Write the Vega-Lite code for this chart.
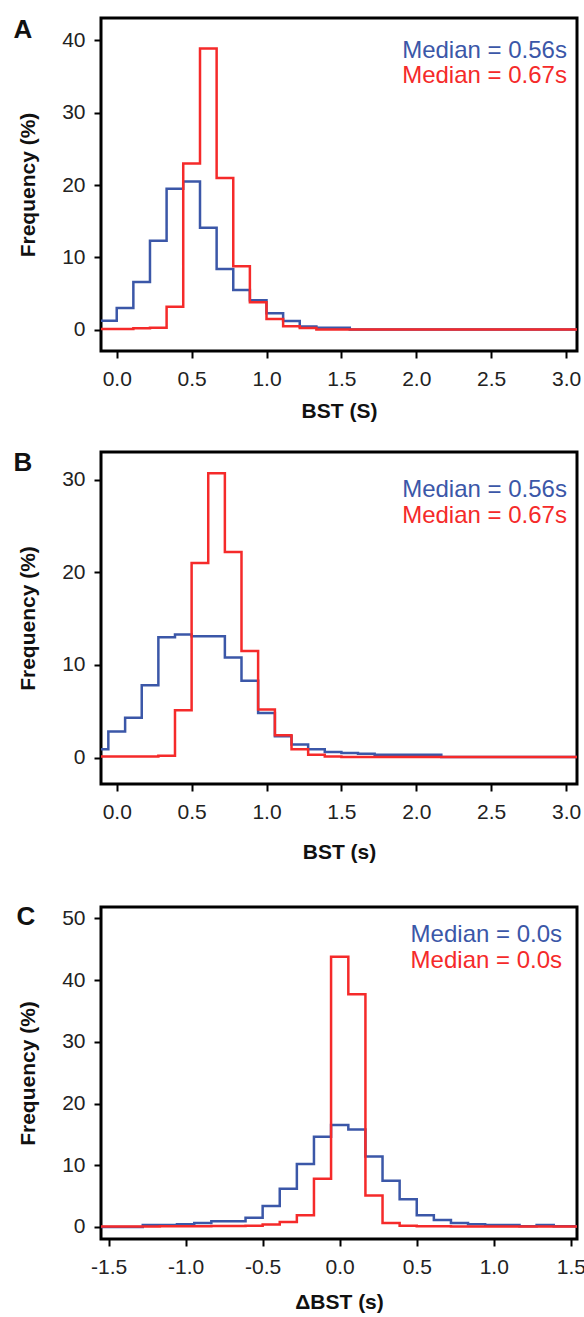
{
  "$schema": "https://vega.github.io/schema/vega-lite/v6.json",
  "padding": {"left": 12, "top": 15, "right": 4, "bottom": 2},
  "spacing": 25,
  "background": "white",
  "config": {
    "font": "Liberation Sans",
    "view": {"stroke": "black", "strokeWidth": 3},
    "axis": {
      "grid": false, "domain": false,
      "tickColor": "black", "tickWidth": 2, "tickSize": 7,
      "labelFont": "Liberation Sans", "labelFontSize": 21, "labelColor": "#222",
      "titleFont": "Liberation Sans", "titleFontSize": 21, "titleFontWeight": "bold", "titleColor": "#111"
    },
    "axisY": {"labelPadding": 9, "titlePadding": 23},
    "axisX": {"labelPadding": 10, "titlePadding": 10}
  },
  "datasets": {
    "panelA": [
      {"x": -0.111, "y": 1.24, "group": "blue"}, {"x": 0.0, "y": 3.0, "group": "blue"},
      {"x": 0.111, "y": 6.6, "group": "blue"}, {"x": 0.222, "y": 12.3, "group": "blue"},
      {"x": 0.333, "y": 19.5, "group": "blue"}, {"x": 0.444, "y": 20.5, "group": "blue"},
      {"x": 0.556, "y": 14.1, "group": "blue"}, {"x": 0.667, "y": 8.4, "group": "blue"},
      {"x": 0.778, "y": 5.5, "group": "blue"}, {"x": 0.889, "y": 4.1, "group": "blue"},
      {"x": 1.0, "y": 2.3, "group": "blue"}, {"x": 1.111, "y": 1.2, "group": "blue"},
      {"x": 1.222, "y": 0.45, "group": "blue"}, {"x": 1.333, "y": 0.3, "group": "blue"},
      {"x": 1.444, "y": 0.3, "group": "blue"}, {"x": 1.556, "y": 0.05, "group": "blue"},
      {"x": 3.2, "y": 0.05, "group": "blue"},
      {"x": -0.111, "y": 0.1, "group": "red"}, {"x": 0.0, "y": 0.1, "group": "red"},
      {"x": 0.111, "y": 0.2, "group": "red"}, {"x": 0.222, "y": 0.3, "group": "red"},
      {"x": 0.333, "y": 3.2, "group": "red"}, {"x": 0.444, "y": 23.0, "group": "red"},
      {"x": 0.556, "y": 38.9, "group": "red"}, {"x": 0.667, "y": 21.0, "group": "red"},
      {"x": 0.778, "y": 8.8, "group": "red"}, {"x": 0.889, "y": 3.8, "group": "red"},
      {"x": 1.0, "y": 1.5, "group": "red"}, {"x": 1.111, "y": 0.5, "group": "red"},
      {"x": 1.222, "y": 0.25, "group": "red"}, {"x": 1.333, "y": 0.05, "group": "red"},
      {"x": 3.2, "y": 0.05, "group": "red"}
    ],
    "panelB": [
      {"x": -0.167, "y": 0.9, "group": "blue"}, {"x": -0.056, "y": 2.8, "group": "blue"},
      {"x": 0.056, "y": 4.3, "group": "blue"}, {"x": 0.167, "y": 7.8, "group": "blue"},
      {"x": 0.278, "y": 13.0, "group": "blue"}, {"x": 0.389, "y": 13.3, "group": "blue"},
      {"x": 0.5, "y": 13.1, "group": "blue"}, {"x": 0.611, "y": 13.1, "group": "blue"},
      {"x": 0.722, "y": 10.8, "group": "blue"}, {"x": 0.833, "y": 8.3, "group": "blue"},
      {"x": 0.944, "y": 4.8, "group": "blue"}, {"x": 1.056, "y": 2.3, "group": "blue"},
      {"x": 1.167, "y": 1.4, "group": "blue"}, {"x": 1.278, "y": 0.9, "group": "blue"},
      {"x": 1.389, "y": 0.6, "group": "blue"}, {"x": 1.5, "y": 0.5, "group": "blue"},
      {"x": 1.611, "y": 0.4, "group": "blue"}, {"x": 1.722, "y": 0.3, "group": "blue"},
      {"x": 2.167, "y": 0.05, "group": "blue"}, {"x": 3.2, "y": 0.05, "group": "blue"},
      {"x": -0.167, "y": 0.1, "group": "red"}, {"x": -0.056, "y": 0.1, "group": "red"},
      {"x": 0.056, "y": 0.1, "group": "red"}, {"x": 0.167, "y": 0.1, "group": "red"},
      {"x": 0.278, "y": 0.2, "group": "red"}, {"x": 0.389, "y": 5.1, "group": "red"},
      {"x": 0.5, "y": 21.0, "group": "red"}, {"x": 0.611, "y": 30.7, "group": "red"},
      {"x": 0.722, "y": 22.2, "group": "red"}, {"x": 0.833, "y": 11.5, "group": "red"},
      {"x": 0.944, "y": 5.2, "group": "red"}, {"x": 1.056, "y": 2.4, "group": "red"},
      {"x": 1.167, "y": 0.9, "group": "red"}, {"x": 1.278, "y": 0.3, "group": "red"},
      {"x": 1.389, "y": 0.1, "group": "red"}, {"x": 1.5, "y": 0.05, "group": "red"},
      {"x": 3.2, "y": 0.05, "group": "red"}
    ],
    "panelC": [
      {"x": -1.611, "y": 0.0, "group": "blue"}, {"x": -1.278, "y": 0.3, "group": "blue"},
      {"x": -1.167, "y": 0.3, "group": "blue"}, {"x": -1.056, "y": 0.45, "group": "blue"},
      {"x": -0.944, "y": 0.65, "group": "blue"}, {"x": -0.833, "y": 0.9, "group": "blue"},
      {"x": -0.722, "y": 0.9, "group": "blue"}, {"x": -0.611, "y": 1.5, "group": "blue"},
      {"x": -0.5, "y": 3.4, "group": "blue"}, {"x": -0.389, "y": 6.2, "group": "blue"},
      {"x": -0.278, "y": 10.2, "group": "blue"}, {"x": -0.167, "y": 14.6, "group": "blue"},
      {"x": -0.056, "y": 16.5, "group": "blue"}, {"x": 0.056, "y": 15.8, "group": "blue"},
      {"x": 0.167, "y": 11.4, "group": "blue"}, {"x": 0.278, "y": 7.5, "group": "blue"},
      {"x": 0.389, "y": 4.5, "group": "blue"}, {"x": 0.5, "y": 1.9, "group": "blue"},
      {"x": 0.611, "y": 1.1, "group": "blue"}, {"x": 0.722, "y": 0.65, "group": "blue"},
      {"x": 0.833, "y": 0.45, "group": "blue"}, {"x": 0.944, "y": 0.3, "group": "blue"},
      {"x": 1.056, "y": 0.3, "group": "blue"}, {"x": 1.167, "y": 0.1, "group": "blue"},
      {"x": 1.278, "y": 0.3, "group": "blue"}, {"x": 1.389, "y": 0.1, "group": "blue"},
      {"x": 1.7, "y": 0.1, "group": "blue"},
      {"x": -1.611, "y": 0.05, "group": "red"}, {"x": -1.167, "y": 0.1, "group": "red"},
      {"x": -0.833, "y": 0.15, "group": "red"}, {"x": -0.611, "y": 0.2, "group": "red"},
      {"x": -0.5, "y": 0.4, "group": "red"}, {"x": -0.389, "y": 0.8, "group": "red"},
      {"x": -0.278, "y": 1.9, "group": "red"}, {"x": -0.167, "y": 7.8, "group": "red"},
      {"x": -0.056, "y": 43.8, "group": "red"}, {"x": 0.056, "y": 37.7, "group": "red"},
      {"x": 0.167, "y": 5.1, "group": "red"}, {"x": 0.278, "y": 0.65, "group": "red"},
      {"x": 0.389, "y": 0.2, "group": "red"}, {"x": 0.5, "y": 0.1, "group": "red"},
      {"x": 0.722, "y": 0.05, "group": "red"}, {"x": 1.7, "y": 0.05, "group": "red"}
    ]
  },
  "vconcat": [
    {
      "width": 476, "height": 333,
      "layer": [
        {
          "data": {"name": "panelA"},
          "mark": {"type": "line", "interpolate": "step-after", "clip": true, "strokeWidth": 2.5},
          "encoding": {
            "x": {"field": "x", "type": "quantitative", "scale": {"domain": [-0.105, 3.073], "nice": false, "zero": false},
                  "axis": {"values": [0, 0.5, 1, 1.5, 2, 2.5, 3], "format": ".1f", "title": "BST (S)", "titlePadding": 11}},
            "y": {"field": "y", "type": "quantitative", "scale": {"domain": [-2.93, 43.1], "nice": false, "zero": false},
                  "axis": {"values": [0, 10, 20, 30, 40], "format": "d", "title": "Frequency (%)"}},
            "color": {"field": "group", "type": "nominal", "scale": {"domain": ["blue", "red"], "range": ["#3b57a8", "#f52a2a"]}, "legend": null}
          }
        },
        {
          "data": {"values": [{"label": "Median = 0.56s"}]},
          "mark": {"type": "text", "align": "right", "baseline": "middle", "fontSize": 24, "color": "#3b57a8"},
          "encoding": {"x": {"datum": 3.006, "type": "quantitative"}, "y": {"datum": 38.6, "type": "quantitative"}, "text": {"field": "label"}}
        },
        {
          "data": {"values": [{"label": "Median = 0.67s"}]},
          "mark": {"type": "text", "align": "right", "baseline": "middle", "fontSize": 24, "color": "#f52a2a"},
          "encoding": {"x": {"datum": 3.006, "type": "quantitative"}, "y": {"datum": 35.05, "type": "quantitative"}, "text": {"field": "label"}}
        },
        {
          "data": {"values": [{"panel": "A"}]},
          "mark": {"type": "text", "align": "center", "baseline": "middle", "fontSize": 26, "fontWeight": "bold", "color": "#111"},
          "encoding": {"x": {"datum": -0.626, "type": "quantitative"}, "y": {"datum": 41.5, "type": "quantitative"}, "text": {"field": "panel"}}
        }
      ]
    },
    {
      "spacing": 38,
      "vconcat": [
        {
          "width": 476, "height": 332,
          "layer": [
            {
              "data": {"name": "panelB"},
              "mark": {"type": "line", "interpolate": "step-after", "clip": true, "strokeWidth": 2.5},
              "encoding": {
                "x": {"field": "x", "type": "quantitative", "scale": {"domain": [-0.105, 3.073], "nice": false, "zero": false},
                      "axis": {"values": [0, 0.5, 1, 1.5, 2, 2.5, 3], "format": ".1f", "title": "BST (s)", "titlePadding": 19}},
                "y": {"field": "y", "type": "quantitative", "scale": {"domain": [-2.86, 33.0], "nice": false, "zero": false},
                      "axis": {"values": [0, 10, 20, 30], "format": "d", "title": "Frequency (%)"}},
                "color": {"field": "group", "type": "nominal", "scale": {"domain": ["blue", "red"], "range": ["#3b57a8", "#f52a2a"]}, "legend": null}
              }
            },
            {
              "data": {"values": [{"label": "Median = 0.56s"}]},
              "mark": {"type": "text", "align": "right", "baseline": "middle", "fontSize": 24, "color": "#3b57a8"},
              "encoding": {"x": {"datum": 3.006, "type": "quantitative"}, "y": {"datum": 28.9, "type": "quantitative"}, "text": {"field": "label"}}
            },
            {
              "data": {"values": [{"label": "Median = 0.67s"}]},
              "mark": {"type": "text", "align": "right", "baseline": "middle", "fontSize": 24, "color": "#f52a2a"},
              "encoding": {"x": {"datum": 3.006, "type": "quantitative"}, "y": {"datum": 26.1, "type": "quantitative"}, "text": {"field": "label"}}
            },
            {
              "data": {"values": [{"panel": "B"}]},
              "mark": {"type": "text", "align": "center", "baseline": "middle", "fontSize": 26, "fontWeight": "bold", "color": "#111"},
              "encoding": {"x": {"datum": -0.626, "type": "quantitative"}, "y": {"datum": 31.8, "type": "quantitative"}, "text": {"field": "panel"}}
            }
          ]
        },
        {
          "width": 476, "height": 332,
          "layer": [
            {
              "data": {"name": "panelC"},
              "mark": {"type": "line", "interpolate": "step-after", "clip": true, "strokeWidth": 2.5},
              "encoding": {
                "x": {"field": "x", "type": "quantitative", "scale": {"domain": [-1.549, 1.54], "nice": false, "zero": false},
                      "axis": {"values": [-1.5, -1, -0.5, 0, 0.5, 1, 1.5], "labelExpr": "datum.value < 0 ? '-' + format(abs(datum.value), '.1f') : format(datum.value, '.1f')", "title": "ΔBST (s)", "titlePadding": 14}},
                "y": {"field": "y", "type": "quantitative", "scale": {"domain": [-1.96, 51.85], "nice": false, "zero": false},
                      "axis": {"values": [0, 10, 20, 30, 40, 50], "format": "d", "title": "Frequency (%)"}},
                "color": {"field": "group", "type": "nominal", "scale": {"domain": ["blue", "red"], "range": ["#3b57a8", "#f52a2a"]}, "legend": null}
              }
            },
            {
              "data": {"values": [{"label": "Median = 0.0s"}]},
              "mark": {"type": "text", "align": "right", "baseline": "middle", "fontSize": 24, "color": "#3b57a8"},
              "encoding": {"x": {"datum": 1.443, "type": "quantitative"}, "y": {"datum": 47.3, "type": "quantitative"}, "text": {"field": "label"}}
            },
            {
              "data": {"values": [{"label": "Median = 0.0s"}]},
              "mark": {"type": "text", "align": "right", "baseline": "middle", "fontSize": 24, "color": "#f52a2a"},
              "encoding": {"x": {"datum": 1.443, "type": "quantitative"}, "y": {"datum": 43.1, "type": "quantitative"}, "text": {"field": "label"}}
            },
            {
              "data": {"values": [{"panel": "C"}]},
              "mark": {"type": "text", "align": "center", "baseline": "middle", "fontSize": 26, "fontWeight": "bold", "color": "#111"},
              "encoding": {"x": {"datum": -2.037, "type": "quantitative"}, "y": {"datum": 50.3, "type": "quantitative"}, "text": {"field": "panel"}}
            }
          ]
        }
      ]
    }
  ]
}
